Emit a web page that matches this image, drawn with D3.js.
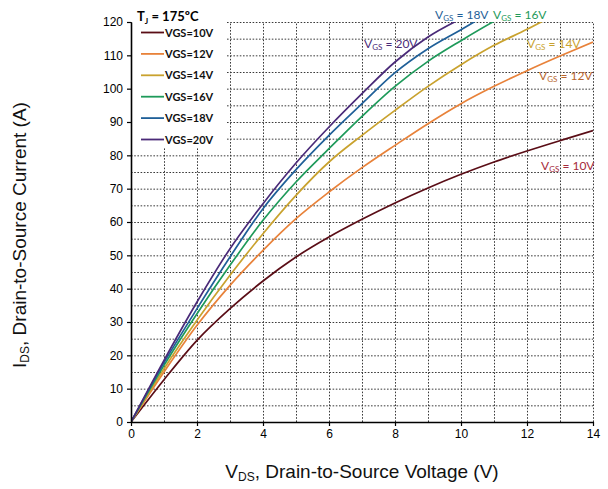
<!DOCTYPE html>
<html>
<head>
<meta charset="utf-8">
<script src="https://cdn.jsdelivr.net/npm/d3@7"></script>
<style>
  html, body { margin: 0; padding: 0; background: #fff; }
  svg { display: block; }
</style>
</head>
<body>
<svg id="chart" width="608" height="489"></svg>
<script>
// Output characteristics, Tj = 175 °C
const vds = [0, 1, 2, 3, 4, 5, 6, 7, 8, 9, 10, 11, 12, 13, 14];
const ids10 = [0, 12.7, 24.5, 34, 42.3, 49.5, 55.5, 60.8, 65.7, 70.2, 74.3, 78, 81.3, 84.4, 87.4];
const ids12 = [0, 15, 29, 41, 51.5, 61, 69, 76.3, 83, 89.5, 95.5, 100.7, 105.4, 109.8, 114];
const ids14 = [0, 16, 30.5, 44, 56.5, 68, 78, 86, 93.5, 100.7, 107.2, 113, 117.8, 123];
const ids16 = [0, 17, 32.5, 47, 60.5, 72, 82, 91.7, 100.7, 108.2, 114.4, 120.2, 125.5];
const ids18 = [0, 17.8, 34, 49.5, 64, 75.7, 86, 95.5, 104.8, 112, 117.7, 123.5];
const ids20 = [0, 18.5, 36, 52, 65.5, 77.7, 88.5, 98.5, 108, 115.5, 121];
const seriesNames = ["VGS=10V", "VGS=12V", "VGS=14V", "VGS=16V", "VGS=18V", "VGS=20V"];
const seriesColors = ["#5a0d16", "#e8823a", "#c9a22e", "#1e9a5a", "#1f5f98", "#4a2a78"];
const xTicks = [0, 2, 4, 6, 8, 10, 12, 14];
const yTicks = [0, 10, 20, 30, 40, 50, 60, 70, 80, 90, 100, 110, 120];

const seriesValues = [ids10, ids12, ids14, ids16, ids18, ids20];
const series = seriesNames.map((name, i) => ({
  name, color: seriesColors[i],
  points: seriesValues[i].map((v, j) => [vds[j], v])
}));

const svg = d3.select("#chart");
const margin = { left: 131, right: 15, top: 22, bottom: 67 };
const W = 608, H = 489;
const x = d3.scaleLinear().domain([0, 14]).range([margin.left, W - margin.right]);
const y = d3.scaleLinear().domain([0, 120]).range([H - margin.bottom, margin.top]);

// dotted grid
const grid = svg.append("g").attr("stroke", "#3a3a3a").attr("stroke-width", 1)
  .attr("stroke-dasharray", "1.6,1.6");
grid.selectAll("line.v").data(d3.range(1, 15)).join("line")
  .attr("x1", d => x(d) + 0.5).attr("x2", d => x(d) + 0.5)
  .attr("y1", y(0)).attr("y2", y(120));
grid.selectAll("line.h").data(d3.range(5, 121, 5)).join("line")
  .attr("x1", x(0)).attr("x2", x(14))
  .attr("y1", d => y(d) + 0.5).attr("y2", d => y(d) + 0.5);

// legend panel
svg.append("rect").attr("x", x(0) + 1).attr("y", 0)
  .attr("width", 95).attr("height", 148).attr("fill", "#fff");

// curves
svg.append("clipPath").attr("id", "plotclip").append("rect")
  .attr("x", x(0)).attr("y", y(120)).attr("width", x(14) - x(0)).attr("height", y(0) - y(120));
const line = d3.line().x(d => x(d[0])).y(d => y(d[1])).curve(d3.curveMonotoneX);
svg.append("g").attr("clip-path", "url(#plotclip)")
  .selectAll("path").data(series).join("path")
  .attr("d", d => line(d.points))
  .attr("fill", "none").attr("stroke", d => d.color).attr("stroke-width", 1.7);

// axes
const tickFont = "'Liberation Sans', Arial, sans-serif";
const yAxis = svg.append("g").attr("transform", `translate(${x(0)},0)`)
  .call(d3.axisLeft(y).tickValues(yTicks).tickSize(4).tickSizeOuter(0).tickPadding(4));
const xAxis = svg.append("g").attr("transform", `translate(0,${y(0)})`)
  .call(d3.axisBottom(x).tickValues(xTicks).tickSize(4).tickSizeOuter(0).tickPadding(3));
[xAxis, yAxis].forEach(g => {
  g.select(".domain").attr("stroke", "#000").attr("stroke-width", 1.6);
  g.selectAll(".tick line").attr("stroke", "#000").attr("stroke-width", 1.2);
  g.selectAll(".tick text").attr("font-family", tickFont).attr("font-size", 12)
    .attr("fill", "#000");
});

// axis titles
const titleFont = "'Liberation Sans', Arial, sans-serif";
const xt = svg.append("text").attr("x", 362).attr("y", 478).attr("text-anchor", "middle")
  .attr("font-family", titleFont).attr("font-size", 19).attr("fill", "#111");
xt.append("tspan").text("V");
xt.append("tspan").attr("font-size", 12).attr("dy", 3).text("DS");
xt.append("tspan").attr("dy", -3).text(", Drain-to-Source Voltage (V)");

const yt = svg.append("text").attr("transform", "translate(26,235) rotate(-90)")
  .attr("text-anchor", "middle")
  .attr("font-family", titleFont).attr("font-size", 19).attr("fill", "#111");
yt.append("tspan").text("I");
yt.append("tspan").attr("font-size", 12).attr("dy", 3).text("DS");
yt.append("tspan").attr("dy", -3).text(", Drain-to-Source Current (A)");

// legend
const legFont = "Lato, 'Open Sans', sans-serif";
const lt = svg.append("text").attr("x", 137).attr("y", 21)
  .attr("font-family", legFont).attr("font-weight", "bold").attr("font-size", 13).attr("fill", "#000");
lt.append("tspan").text("T");
lt.append("tspan").attr("font-size", 8).attr("dy", 3).text("J");
lt.append("tspan").attr("dy", -3).text(" = 175ºC");

const leg = svg.append("g").selectAll("g").data(series).join("g")
  .attr("transform", (d, i) => `translate(141,${32.5 + i * 21.4})`);
leg.append("line").attr("x1", 0).attr("x2", 23).attr("y1", 0).attr("y2", 0)
  .attr("stroke", d => d.color).attr("stroke-width", 1.8);
leg.append("text").attr("x", 24).attr("y", 4)
  .attr("font-family", legFont).attr("font-weight", "bold").attr("font-size", 11)
  .attr("fill", "#111").text(d => d.name);

// curve labels
const curveLabels = [
  { v: "18V", color: "#1f5f98", x: 435, y: 19 },
  { v: "16V", color: "#1e9a5a", x: 493, y: 19 },
  { v: "20V", color: "#4a2a78", x: 364, y: 48 },
  { v: "14V", color: "#c9a22e", x: 527, y: 48 },
  { v: "12V", color: "#b8662e", x: 539, y: 80 },
  { v: "10V", color: "#a52a3a", x: 541, y: 170 }
];
curveLabels.forEach(l => {
  const t = svg.append("text").attr("x", l.x).attr("y", l.y)
    .attr("font-family", legFont).attr("font-size", 12).attr("fill", l.color);
  t.append("tspan").text("V");
  t.append("tspan").attr("font-size", 8).attr("dy", 2).text("GS");
  t.append("tspan").attr("dy", -2).text(" = " + l.v);
});
</script>
</body>
</html>
